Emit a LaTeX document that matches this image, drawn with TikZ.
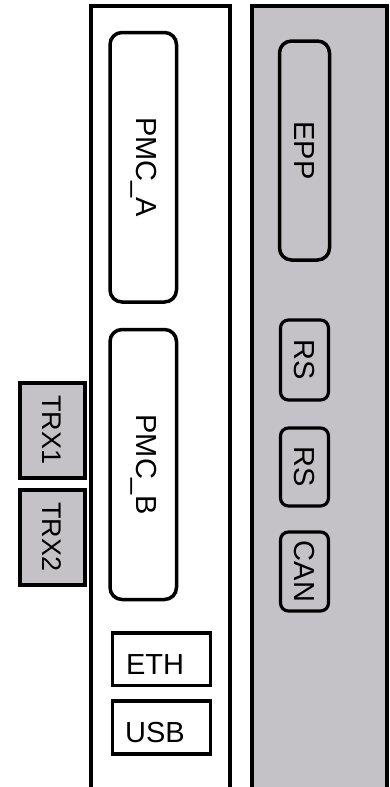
\documentclass[tikz,border=0pt]{standalone}
\usepackage{fontspec}
\setmainfont{Liberation Sans}
\definecolor{panelgray}{RGB}{196,194,198}
\tikzset{
  panel/.style={draw=black, line width=4pt},
  modbox/.style={draw=black, line width=3.5pt, rounded corners=12pt, inner sep=0pt},
  portbox/.style={draw=black, line width=3.5pt, inner sep=0pt},
  smallbox/.style={draw=black, line width=3.2pt, rounded corners=8pt, inner sep=0pt},
  trxbox/.style={draw=black, fill=panelgray, line width=4pt, inner sep=0pt},
  lbl/.style={font=\fontsize{29}{30}\selectfont, inner sep=0pt},
  vlbl/.style={lbl, rotate=-90},
}
\begin{document}
\begin{tikzpicture}[x=1pt, y=-1pt]
  \useasboundingbox (0,0) rectangle (389,787);
  \fill[white] (0,0) rectangle (389,787);
  % carrier board and processor board
  \begin{scope}
    \clip (0,0) rectangle (389,787);
    \draw[panel, fill=white] (91,6) rectangle (230,800);
    \draw[panel, fill=panelgray] (252,6) rectangle (387,800);
  \end{scope}
  % PMC slots
  \node[modbox, minimum width=66.5pt, minimum height=269.5pt] (pmca) at (143.25,167.25) {};
  \node[vlbl] at (pmca.center) {PMC\_A};
  \node[modbox, minimum width=66.5pt, minimum height=270pt] (pmcb) at (143.25,464.5) {};
  \node[vlbl] at (pmcb.center) {PMC\_B};
  % front ports
  \node[portbox, minimum width=98pt, minimum height=52.5pt] (eth) at (161.5,659.25) {};
  \node[lbl] at (155,665) {ETH};
  \node[portbox, minimum width=98pt, minimum height=53pt] (usb) at (161.5,727.5) {};
  \node[lbl] at (155,733) {USB};
  % processor board interfaces
  \node[modbox, minimum width=50pt, minimum height=219pt] (epp) at (304.5,150.5) {};
  \node[vlbl] at (epp.center) {EPP};
  \node[smallbox, minimum width=48pt, minimum height=80pt] (rs1) at (304.5,360) {};
  \node[vlbl] at (rs1.center) {RS};
  \node[smallbox, minimum width=48pt, minimum height=78pt] (rs2) at (304.5,467) {};
  \node[vlbl] at (rs2.center) {RS};
  \node[smallbox, minimum width=48pt, minimum height=79pt] (can) at (304.5,571.5) {};
  \node[vlbl] at (can.center) {CAN};
  % transceivers
  \node[trxbox, minimum width=65pt, minimum height=95pt] (trx1) at (52,430) {};
  \node[vlbl, font=\fontsize{27}{28}\selectfont] at (trx1.center) {TRX1};
  \node[trxbox, minimum width=65pt, minimum height=95pt] (trx2) at (52,537) {};
  \node[vlbl, font=\fontsize{27}{28}\selectfont] at (trx2.center) {TRX2};
\end{tikzpicture}
\end{document}
